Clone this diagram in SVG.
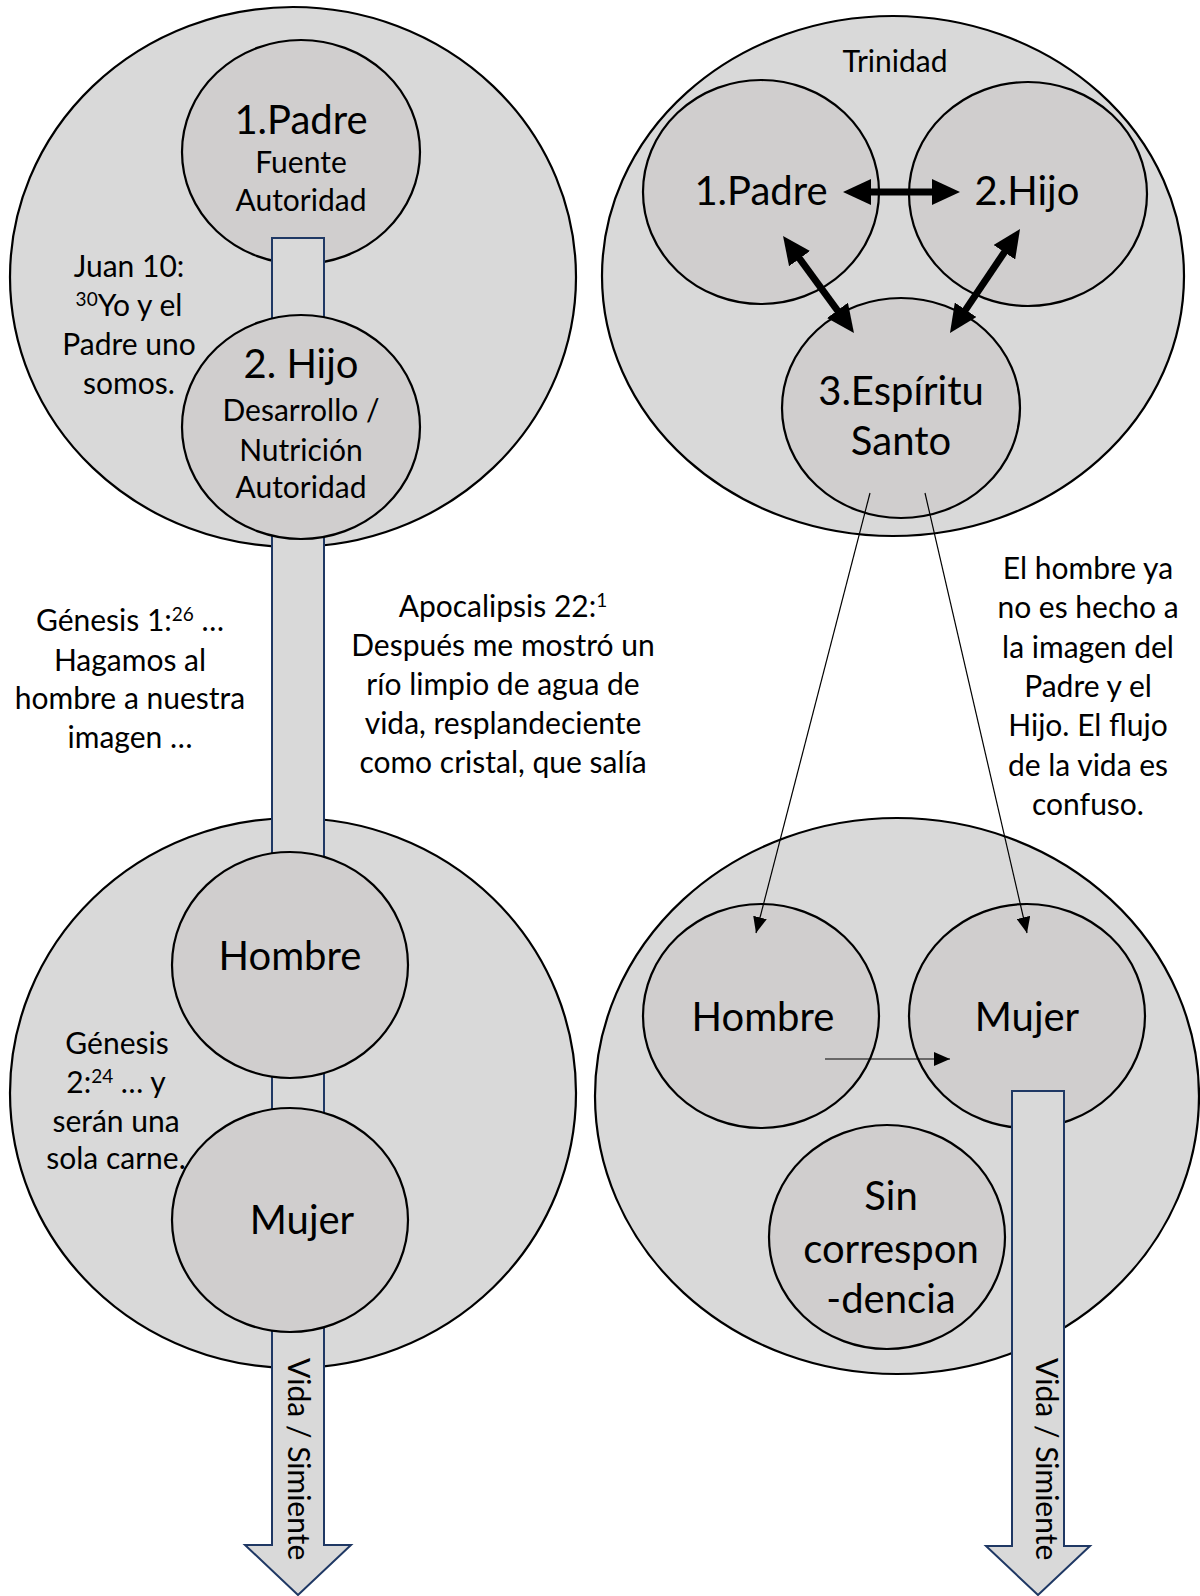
<svg xmlns="http://www.w3.org/2000/svg" width="1200" height="1596" viewBox="0 0 1200 1596">
<style>
.big{fill:#D9D9D9;stroke:#000;stroke-width:2.2}
.inner{fill:#D0CECE;stroke:#000;stroke-width:2.2}
.tube{fill:#D9D9D9;stroke:#1F3864;stroke-width:2;stroke-linejoin:miter}
text{font-family:Lato,"Liberation Sans",sans-serif;fill:#000;text-anchor:middle}
.s{font-size:30px}
.l{font-size:40px}
.sup{font-size:19px}
.thick{stroke:#000;stroke-width:7;fill:none}
.thin{stroke:#000;stroke-width:1.2;fill:none}
</style>
<defs>
<marker id="hd" viewBox="0 0 28 26" markerWidth="28" markerHeight="26" refX="14" refY="13" markerUnits="userSpaceOnUse" orient="auto-start-reverse">
<path d="M0,0 L28,13 L0,26 z" fill="#000"/>
</marker>
<marker id="hs" viewBox="0 0 16 14" markerWidth="16" markerHeight="14" refX="16" refY="7" markerUnits="userSpaceOnUse" orient="auto">
<path d="M0,0 L16,7 L0,14 z" fill="#000"/>
</marker>
</defs>

<g id="group-top-left"><ellipse class="big" cx="293" cy="277" rx="283" ry="270"/></g>
<g id="group-bottom-left"><ellipse class="big" cx="293" cy="1093" rx="283" ry="275"/></g>
<g id="group-trinidad">
<ellipse class="big" cx="893" cy="276" rx="291" ry="260"/>
<text class="s" x="895" y="72">Trinidad</text>
</g>
<g id="group-bottom-right"><ellipse class="big" cx="897" cy="1096" rx="302" ry="278"/></g>

<g id="node-padre-left">
<ellipse class="inner" cx="301" cy="152" rx="119" ry="112"/>
<text class="l" x="301" y="134">1.Padre</text>
<text class="s" x="301" y="173">Fuente</text>
<text class="s" x="301" y="211">Autoridad</text>
</g>

<g id="node-padre-right">
<ellipse class="inner" cx="761" cy="192" rx="118" ry="112"/>
<text class="l" x="761" y="205">1.Padre</text>
</g>
<g id="node-hijo-right">
<ellipse class="inner" cx="1028" cy="194" rx="119" ry="112"/>
<text class="l" x="1027" y="205">2.Hijo</text>
</g>
<g id="node-espiritu">
<ellipse class="inner" cx="901" cy="408" rx="119" ry="110"/>
<text class="l" x="901" y="405">3.Espíritu</text>
<text class="l" x="901" y="455">Santo</text>
</g>

<g id="node-hombre-right">
<ellipse class="inner" cx="761" cy="1016" rx="118" ry="112"/>
<text class="l" x="763" y="1031">Hombre</text>
</g>
<g id="node-mujer-right">
<ellipse class="inner" cx="1027" cy="1016" rx="118" ry="112"/>
<text class="l" x="1027" y="1031">Mujer</text>
</g>
<g id="node-sin-correspondencia">
<ellipse class="inner" cx="887" cy="1237" rx="118" ry="112"/>
<text class="l" x="891" y="1210">Sin</text>
<text class="l" x="891" y="1263">correspon</text>
<text class="l" x="891" y="1313">-dencia</text>
</g>

<g id="connectors-flow">
<polygon class="tube" points="272,238 324,238 324,1545 351,1545 298,1595 245,1545 272,1545"/>
<text class="s" style="text-anchor:start" transform="translate(288,1358) rotate(90)">Vida / Simiente</text>
<polygon class="tube" points="1012,1091 1064,1091 1064,1546 1090,1546 1038,1595 986,1546 1012,1546"/>
<text class="s" style="text-anchor:start" transform="translate(1036,1358) rotate(90)">Vida / Simiente</text>
</g>

<g id="node-hijo-left">
<ellipse class="inner" cx="301" cy="427" rx="119" ry="112"/>
<text class="l" x="301" y="378">2. Hijo</text>
<text class="s" x="301" y="421">Desarrollo /</text>
<text class="s" x="301" y="461">Nutrición</text>
<text class="s" x="301" y="498">Autoridad</text>
</g>
<g id="node-hombre-left">
<ellipse class="inner" cx="290" cy="965" rx="118" ry="113"/>
<text class="l" x="290" y="970">Hombre</text>
</g>
<g id="node-mujer-left">
<ellipse class="inner" cx="290" cy="1220" rx="118" ry="112"/>
<text class="l" x="302" y="1234">Mujer</text>
</g>

<g id="connectors">
<line class="thick" x1="857" y1="192" x2="946" y2="192" marker-start="url(#hd)" marker-end="url(#hd)"/>
<line class="thick" x1="791.3" y1="247.3" x2="845.7" y2="321.7" marker-start="url(#hd)" marker-end="url(#hd)"/>
<line class="thick" x1="1012.2" y1="240.6" x2="957.8" y2="321.4" marker-start="url(#hd)" marker-end="url(#hd)"/>
<line class="thin" x1="870" y1="493" x2="756" y2="933" marker-end="url(#hs)"/>
<line class="thin" x1="925" y1="493" x2="1027" y2="933" marker-end="url(#hs)"/>
<line class="thin" x1="825" y1="1059" x2="950" y2="1059" marker-end="url(#hs)"/>
</g>

<g id="note-juan">
<text class="s" x="129" y="277">Juan 10:</text>
<text class="s" x="129" y="316"><tspan class="sup" dy="-10">30</tspan><tspan dy="10">Yo y el</tspan></text>
<text class="s" x="129" y="355">Padre uno</text>
<text class="s" x="129" y="394">somos.</text>
</g>
<g id="note-genesis1">
<text class="s" x="130" y="631">Génesis 1:<tspan class="sup" dy="-10">26</tspan><tspan dy="10"> …</tspan></text>
<text class="s" x="130" y="671">Hagamos al</text>
<text class="s" x="130" y="709">hombre a nuestra</text>
<text class="s" x="130" y="748">imagen …</text>
</g>
<g id="note-apocalipsis">
<text class="s" x="503" y="617">Apocalipsis 22:<tspan class="sup" dy="-10">1</tspan></text>
<text class="s" x="503" y="656">Después me mostró un</text>
<text class="s" x="503" y="695">río limpio de agua de</text>
<text class="s" x="503" y="734">vida, resplandeciente</text>
<text class="s" x="503" y="773">como cristal, que salía</text>
</g>
<g id="note-genesis2">
<text class="s" x="117" y="1054">Génesis</text>
<text class="s" x="116" y="1093">2:<tspan class="sup" dy="-10">24</tspan><tspan dy="10"> … y</tspan></text>
<text class="s" x="116" y="1132">serán una</text>
<text class="s" x="116" y="1169">sola carne.</text>
</g>
<g id="note-hombre">
<text class="s" x="1088" y="579">El hombre ya</text>
<text class="s" x="1088" y="618">no es hecho a</text>
<text class="s" x="1088" y="658">la imagen del</text>
<text class="s" x="1088" y="697">Padre y el</text>
<text class="s" x="1088" y="736">Hijo. El flujo</text>
<text class="s" x="1088" y="776">de la vida es</text>
<text class="s" x="1088" y="815">confuso.</text>
</g>
</svg>
